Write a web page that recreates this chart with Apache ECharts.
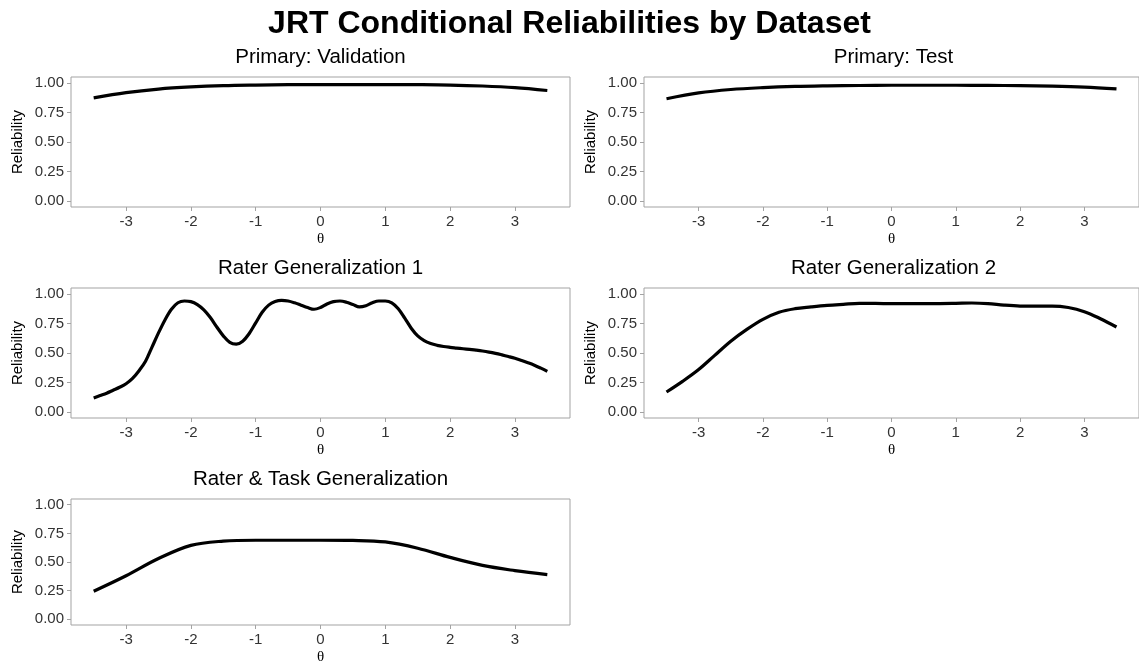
<!DOCTYPE html>
<html>
<head>
<meta charset="utf-8">
<script src="https://cdn.jsdelivr.net/npm/echarts@6/dist/echarts.min.js"></script>
<style>
  html, body { margin: 0; padding: 0; background: #fff; }
  #chart { width: 1139px; height: 666px; }
</style>
</head>
<body>
<div id="chart"></div>
<script>
// Conditional reliability curves (theta on x, reliability on y), one per dataset
const panelTitles = [
  'Primary: Validation',
  'Primary: Test',
  'Rater Generalization 1',
  'Rater Generalization 2',
  'Rater & Task Generalization'
];

const thetaValidation = [-3.5, -3, -2.5, -2, -1.5, -1, -0.5, 0, 0.5, 1, 1.5, 2, 2.5, 3, 3.5];
const relValidation   = [0.874, 0.918, 0.948, 0.966, 0.977, 0.982, 0.985, 0.986, 0.986, 0.986, 0.985, 0.982, 0.974, 0.960, 0.936];

const thetaTest = [-3.5, -3, -2.5, -2, -1.5, -1, -0.5, 0, 0.5, 1, 1.5, 2, 2.5, 3, 3.5];
const relTest   = [0.866, 0.915, 0.944, 0.960, 0.970, 0.975, 0.978, 0.980, 0.980, 0.980, 0.979, 0.977, 0.973, 0.965, 0.950];

const thetaRater1 = [
  -3.5, -3.4, -3.3, -3.2, -3.1, -3.0, -2.9, -2.8, -2.7, -2.6, -2.5, -2.4, -2.3, -2.2, -2.1,
  -2.0, -1.9, -1.8, -1.7, -1.6, -1.5, -1.4, -1.3, -1.2, -1.1, -1.0, -0.9, -0.8, -0.7, -0.6,
  -0.5, -0.4, -0.3, -0.2, -0.1, 0.0, 0.1, 0.2, 0.3, 0.4, 0.5, 0.6, 0.7, 0.8, 0.9,
  1.0, 1.1, 1.2, 1.3, 1.4, 1.5, 1.6, 1.7, 1.8, 1.9, 2.0, 2.1, 2.2, 2.3, 2.4,
  2.5, 2.6, 2.7, 2.8, 2.9, 3.0, 3.1, 3.2, 3.3, 3.4, 3.5
];
const relRater1 = [
  0.12, 0.14, 0.16, 0.185, 0.21, 0.24, 0.285, 0.35, 0.43, 0.55, 0.67, 0.78, 0.87, 0.925, 0.94,
  0.935, 0.91, 0.865, 0.80, 0.72, 0.645, 0.59, 0.575, 0.60, 0.665, 0.755, 0.845, 0.905, 0.935, 0.945,
  0.94, 0.925, 0.905, 0.885, 0.87, 0.885, 0.915, 0.935, 0.94, 0.93, 0.91, 0.89, 0.90, 0.925, 0.94,
  0.94, 0.925, 0.875, 0.795, 0.71, 0.645, 0.605, 0.58, 0.565, 0.555, 0.548, 0.542, 0.536, 0.53, 0.524,
  0.517, 0.508, 0.497, 0.484, 0.47, 0.455, 0.437, 0.418, 0.397, 0.372, 0.345
];

const thetaRater2 = [-3.5, -3.25, -3, -2.75, -2.5, -2.25, -2, -1.75, -1.5, -1.25, -1, -0.75, -0.5, -0.25, 0,
                     0.25, 0.5, 0.75, 1, 1.25, 1.5, 1.75, 2, 2.25, 2.5, 2.75, 3, 3.25, 3.5];
const relRater2   = [0.17, 0.26, 0.36, 0.48, 0.60, 0.70, 0.785, 0.845, 0.875, 0.89, 0.903, 0.912, 0.92, 0.92, 0.917,
                     0.917, 0.918, 0.918, 0.92, 0.923, 0.918, 0.905, 0.897, 0.896, 0.897, 0.885, 0.85, 0.79, 0.72];

const thetaRaterTask = [-3.5, -3, -2.5, -2, -1.5, -1, -0.5, 0, 0.5, 1, 1.5, 2, 2.5, 3, 3.5];
const relRaterTask   = [0.245, 0.38, 0.53, 0.645, 0.682, 0.690, 0.690, 0.690, 0.688, 0.675, 0.62, 0.54, 0.47, 0.425, 0.39];

const xTicks = [-3, -2, -1, 0, 1, 2, 3];
const yTicks = [0, 0.25, 0.5, 0.75, 1];

const panelThetas = [thetaValidation, thetaTest, thetaRater1, thetaRater2, thetaRaterTask];
const panelRels   = [relValidation, relTest, relRater1, relRater2, relRaterTask];

// panel boxes: [left, top] with shared size
const boxW = 499, boxH = 130;
const boxes = [[71, 77], [644, 77], [71, 288], [644, 288], [71, 499]];

const fontSans = 'Liberation Sans, Arial, Helvetica, sans-serif';
const borderColor = '#a3a3a3';

const grids = [], xAxes = [], yAxes = [], series = [];
const titles = [{
  text: 'JRT Conditional Reliabilities by Dataset',
  left: 'center',
  top: 8,
  padding: 0,
  textStyle: { fontFamily: fontSans, fontWeight: 'bold', fontSize: 32, color: '#000' }
}];

panelTitles.forEach((name, i) => {
  const [l, t] = boxes[i];
  grids.push({
    left: l, top: t, width: boxW, height: boxH,
    show: true, borderColor: borderColor, borderWidth: 1, backgroundColor: '#fff'
  });
  titles.push({
    text: name,
    left: l + boxW / 2,
    top: t - 30,
    padding: 0,
    textAlign: 'center',
    textStyle: { fontFamily: fontSans, fontWeight: 'normal', fontSize: 20.5, color: '#000' }
  });
  xAxes.push({
    type: 'value', gridIndex: i, min: -3.85, max: 3.85,
    name: 'θ', nameLocation: 'middle', nameGap: 25,
    nameTextStyle: { fontFamily: 'Liberation Serif, Times New Roman, serif', fontSize: 15, color: '#000' },
    axisLine: { show: false, onZero: false },
    axisTick: { show: true, inside: false, length: 4, customValues: xTicks, lineStyle: { color: borderColor } },
    axisLabel: { customValues: xTicks, margin: 7, fontFamily: fontSans, fontSize: 15, color: '#333',
                 formatter: v => String(v) },
    splitLine: { show: false }
  });
  yAxes.push({
    type: 'value', gridIndex: i, min: -0.05, max: 1.05,
    name: 'Reliability', nameLocation: 'middle', nameGap: 46, nameRotate: 90,
    nameTextStyle: { fontFamily: fontSans, fontSize: 15, color: '#000' },
    axisLine: { show: false, onZero: false },
    axisTick: { show: true, inside: false, length: 4, customValues: yTicks, lineStyle: { color: borderColor } },
    axisLabel: { customValues: yTicks, margin: 7, fontFamily: fontSans, fontSize: 15, color: '#333',
                 formatter: v => v.toFixed(2) },
    splitLine: { show: false }
  });
  const th = panelThetas[i], rl = panelRels[i];
  series.push({
    type: 'line', name: name, xAxisIndex: i, yAxisIndex: i,
    data: th.map((x, k) => [x, rl[k]]),
    smooth: 0.35, showSymbol: false, silent: true,
    lineStyle: { color: '#000', width: 3.2 },
    animation: false
  });
});

const chart = echarts.init(document.getElementById('chart'), null, { renderer: 'canvas' });
chart.setOption({
  backgroundColor: '#fff',
  animation: false,
  title: titles,
  grid: grids,
  xAxis: xAxes,
  yAxis: yAxes,
  series: series
});
</script>
</body>
</html>
